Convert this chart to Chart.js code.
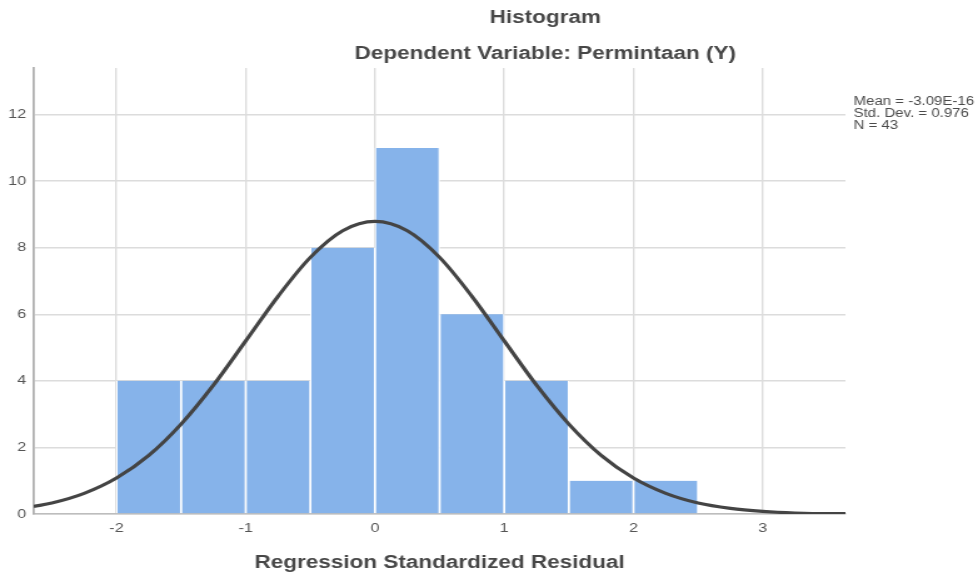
<!DOCTYPE html>
<html lang="id">
<head>
    <meta charset="UTF-8">
    <title>Histogram</title>
    <script src="https://cdn.jsdelivr.net/npm/chart.js"></script>
    <style>
        body {
            margin: 0;
            background: #fff;
        }
        #histChart {
            display: block;
        }
    </style>
</head>
<body>
    <canvas id="histChart" width="782" height="578" style="width: 978px; height: 578px;"></canvas>

    <script>
        // histogram bins (edges) and counts
        const binEdges = [-2, -1.5, -1, -0.5, 0, 0.5, 1, 1.5, 2, 2.5];
        const counts = [4, 4, 4, 8, 11, 6, 4, 1, 1];

        // normal curve
        const curveX = [-2.64, -2.5, -2.25, -2, -1.75, -1.5, -1.25, -1, -0.75, -0.5, -0.25, 0,
                        0.25, 0.5, 0.75, 1, 1.25, 1.5, 1.75, 2, 2.25, 2.5, 2.75, 3, 3.25, 3.5, 3.64];
        const curveY = [0.23, 0.33, 0.62, 1.08, 1.76, 2.70, 3.87, 5.20, 6.54, 7.71, 8.51, 8.79,
                        8.51, 7.71, 6.54, 5.20, 3.87, 2.70, 1.76, 1.08, 0.62, 0.33, 0.17, 0.08, 0.03, 0.01, 0.01];

        const titleText = 'Histogram';
        const subtitleText = 'Dependent Variable: Permintaan (Y)';
        const xTitleText = 'Regression Standardized Residual';
        const statsLines = ['Mean = -3.09E-16', 'Std. Dev. = 0.976', 'N = 43'];

        const barData = counts.map((c, i) => ({ x: (binEdges[i] + binEdges[i + 1]) / 2, y: c }));
        const lineData = curveX.map((x, i) => ({ x: x, y: curveY[i] }));

        // canvas is drawn narrow and stretched by css, like the original image
        const textPlugin = {
            id: 'texts',
            afterDraw(chart) {
                const ctx = chart.ctx;
                const area = chart.chartArea;
                ctx.save();
                ctx.fillStyle = '#474747';
                ctx.textBaseline = 'middle';
                ctx.textAlign = 'center';
                ctx.font = 'bold 18px "Liberation Sans", Arial, sans-serif';
                ctx.fillText(titleText, 436, 18.5);
                ctx.fillText(subtitleText, 436, 54);
                ctx.fillText(xTitleText, (area.left + area.right) / 2, 563.5);

                ctx.textAlign = 'left';
                ctx.fillStyle = '#4a4a4a';
                ctx.font = '12px "Liberation Sans", Arial, sans-serif';
                statsLines.forEach((t, i) => ctx.fillText(t, 682.5, 101.5 + i * 12));
                ctx.restore();
            }
        };

        const ctx = document.getElementById('histChart').getContext('2d');
        new Chart(ctx, {
            type: 'bar',
            data: {
                datasets: [{
                    type: 'line',
                    data: lineData,
                    borderColor: '#444444',
                    borderWidth: 3.2,
                    pointRadius: 0,
                    fill: false,
                    cubicInterpolationMode: 'monotone',
                    order: 0
                }, {
                    type: 'bar',
                    data: barData,
                    backgroundColor: '#86b3ea',
                    borderColor: '#ffffff',
                    borderWidth: { left: 1.2, right: 1.2, top: 0, bottom: 0 },
                    borderSkipped: false,
                    barPercentage: 1,
                    categoryPercentage: 1,
                    order: 1
                }]
            },
            options: {
                responsive: false,
                animation: false,
                devicePixelRatio: 1,
                layout: {
                    padding: { left: 0, right: 106, top: 68, bottom: 0 }
                },
                plugins: {
                    legend: { display: false },
                    tooltip: { enabled: false },
                    title: { display: false }
                },
                scales: {
                    x: {
                        type: 'linear',
                        min: -2.64,
                        max: 3.64,
                        offset: false,
                        afterFit: (s) => { s.height = 64; },
                        grid: {
                            offset: false,
                            color: '#dcdcdc',
                            lineWidth: 1.4,
                            drawTicks: false
                        },
                        border: { color: '#bdbdbd', width: 1.5 },
                        ticks: {
                            stepSize: 1,
                            includeBounds: false,
                            padding: 7,
                            color: '#555',
                            font: { family: '"Liberation Sans", Arial, sans-serif', size: 13 }
                        }
                    },
                    y: {
                        min: 0,
                        max: 13.4,
                        afterFit: (s) => { s.width = 27; },
                        grid: {
                            color: '#dcdcdc',
                            lineWidth: 1.5,
                            drawTicks: false
                        },
                        border: { color: '#b0b0b0', width: 1.8 },
                        ticks: {
                            stepSize: 2,
                            includeBounds: false,
                            padding: 6,
                            color: '#555',
                            font: { family: '"Liberation Sans", Arial, sans-serif', size: 13 }
                        }
                    }
                }
            },
            plugins: [textPlugin]
        });
    </script>
</body>
</html>
